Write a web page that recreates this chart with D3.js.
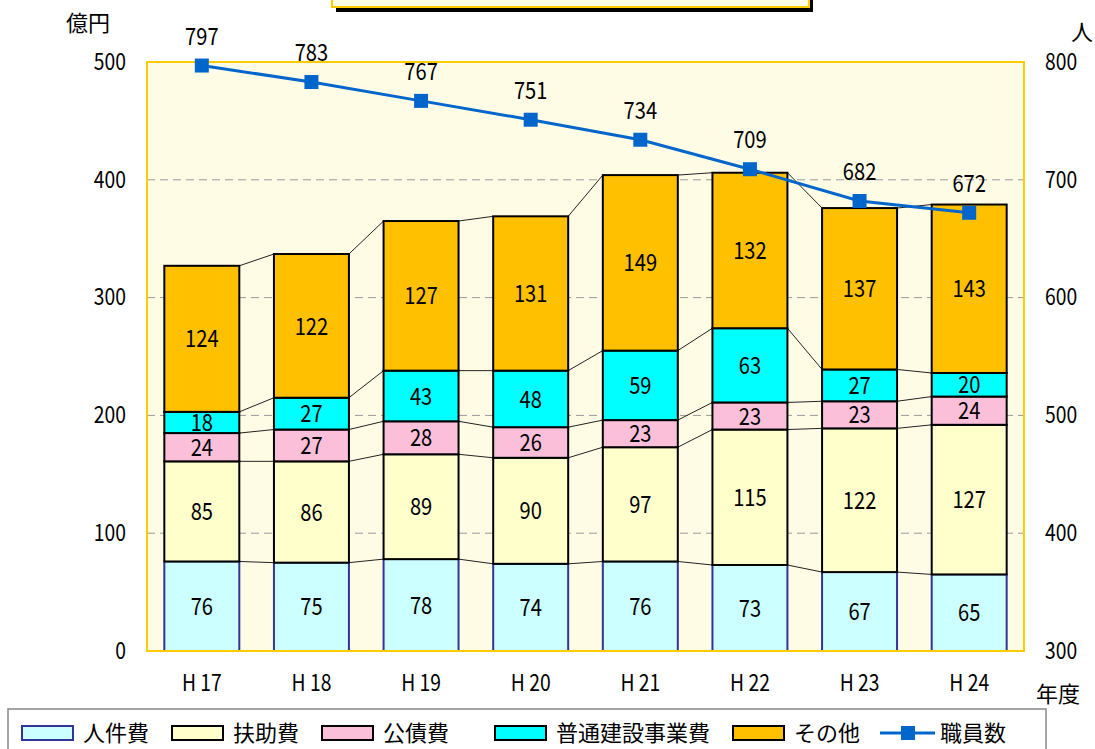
<!DOCTYPE html>
<html>
<head>
<meta charset="utf-8">
<script src="https://cdn.jsdelivr.net/npm/d3@7"></script>
<style>
  body { margin: 0; background: #fff; }
  svg text { font-family: "Noto Sans CJK JP", "DejaVu Sans", sans-serif; fill: #000; }
</style>
</head>
<body>
<div id="chart-area"></div>
<script>
// data
const years = ["H 17", "H 18", "H 19", "H 20", "H 21", "H 22", "H 23", "H 24"];
const personnel = [76, 75, 78, 74, 76, 73, 67, 65];
const assistance = [85, 86, 89, 90, 97, 115, 122, 127];
const debt = [24, 27, 28, 26, 23, 23, 23, 24];
const construction = [18, 27, 43, 48, 59, 63, 27, 20];
const other = [124, 122, 127, 131, 149, 132, 137, 143];
const staff = [797, 783, 767, 751, 734, 709, 682, 672];
const leftTicks = [0, 100, 200, 300, 400, 500];
const rightTicks = [300, 400, 500, 600, 700, 800];

const series = [
    { name: "人件費", values: personnel, fill: "#CCFFFF", stroke: "#333399" },
    { name: "扶助費", values: assistance, fill: "#FFFFCC", stroke: "#000" },
    { name: "公債費", values: debt, fill: "#FBBFDA", stroke: "#000" },
    { name: "普通建設事業費", values: construction, fill: "#00FFFF", stroke: "#000" },
    { name: "その他", values: other, fill: "#FFC000", stroke: "#000" }
];

const W = 1095, H = 749;
const margin = { top: 62, right: 71, bottom: 98, left: 147 };
const width = W - margin.left - margin.right;
const height = H - margin.top - margin.bottom;
const narrow = 0.84; // digits in the original are tall and narrow

const svg = d3.select('#chart-area').append('svg')
    .attr('width', W)
    .attr('height', H);

// title box cut off at the top
svg.append('rect').attr('x', 336).attr('y', -20).attr('width', 477).attr('height', 32).attr('fill', '#000');
svg.append('rect').attr('x', 332).attr('y', -20).attr('width', 477).attr('height', 27)
    .attr('fill', '#FFFCE6').attr('stroke', '#FFCC00').attr('stroke-width', 2);

const g = svg.append('g').attr('transform', `translate(${margin.left},${margin.top})`);

const x = d3.scaleBand().domain(years).range([0, width]).paddingInner(0.316).paddingOuter(0.158);
const y = d3.scaleLinear().domain([0, 500]).range([height, 0]);
const y2 = d3.scaleLinear().domain([300, 800]).range([height, 0]);

g.append('rect').attr('width', width).attr('height', height).attr('fill', '#FFFCE6');

// gridlines
g.selectAll('.grid').data([100, 200, 300, 400]).enter().append('line')
    .attr('x1', 0).attr('x2', width)
    .attr('y1', d => y(d)).attr('y2', d => y(d))
    .attr('stroke', '#999').attr('stroke-dasharray', '8,5').attr('stroke-width', 1);

// stacked data
const stackData = years.map((yr, i) => {
    const row = { year: yr };
    series.forEach(s => row[s.name] = s.values[i]);
    return row;
});
const stacked = d3.stack().keys(series.map(s => s.name))(stackData);

// connector lines between bars
stacked.forEach(layer => {
    for (let i = 0; i < years.length - 1; i++) {
        g.append('line')
            .attr('x1', x(years[i]) + x.bandwidth())
            .attr('x2', x(years[i + 1]))
            .attr('y1', y(layer[i][1]))
            .attr('y2', y(layer[i + 1][1]))
            .attr('stroke', '#222').attr('stroke-width', 1);
    }
});

stacked.forEach((layer, li) => {
    const s = series[li];
    g.selectAll(`.bar-${li}`).data(layer).enter().append('rect')
        .attr('x', (d, i) => x(years[i]))
        .attr('y', d => y(d[1]))
        .attr('width', x.bandwidth())
        .attr('height', d => y(d[0]) - y(d[1]))
        .attr('fill', s.fill)
        .attr('stroke', s.stroke)
        .attr('stroke-width', 2);

    g.selectAll(`.val-${li}`).data(layer).enter().append('text')
        .attr('transform', (d, i) => `translate(${x(years[i]) + x.bandwidth() / 2},${(y(d[0]) + y(d[1])) / 2}) scale(${narrow},1)`)
        .attr('dy', '.36em')
        .attr('text-anchor', 'middle')
        .style('font-size', '24px')
        .text((d, i) => s.values[i]);
});

// plot border
g.append('rect').attr('width', width).attr('height', height)
    .attr('fill', 'none').attr('stroke', '#FFCC00').attr('stroke-width', 2);

// staff line
const line = d3.line()
    .x((d, i) => x(years[i]) + x.bandwidth() / 2)
    .y(d => y2(d));
g.append('path').datum(staff).attr('d', line)
    .attr('fill', 'none').attr('stroke', '#0066CC').attr('stroke-width', 3);
g.selectAll('.marker').data(staff).enter().append('rect')
    .attr('x', (d, i) => x(years[i]) + x.bandwidth() / 2 - 7)
    .attr('y', d => y2(d) - 7)
    .attr('width', 14).attr('height', 14)
    .attr('fill', '#0066CC');
g.selectAll('.staff-label').data(staff).enter().append('text')
    .attr('transform', (d, i) => `translate(${x(years[i]) + x.bandwidth() / 2},${y2(d) - 21}) scale(${narrow},1)`)
    .attr('text-anchor', 'middle')
    .style('font-size', '24px')
    .text(d => d);

// axes
const leftAxis = g.append('g')
    .call(d3.axisLeft(y).tickValues(leftTicks).tickSize(0).tickPadding(0));
const rightAxis = g.append('g').attr('transform', `translate(${width},0)`)
    .call(d3.axisRight(y2).tickValues(rightTicks).tickSize(0).tickPadding(0));
const xAxis = g.append('g').attr('transform', `translate(0,${height})`)
    .call(d3.axisBottom(x).tickSize(0).tickPadding(24));
[leftAxis, rightAxis, xAxis].forEach(a => {
    a.select('.domain').remove();
    a.selectAll('text')
        .style('font-size', '23px')
        .attr('fill', '#000');
});
leftAxis.selectAll('text').attr('x', null).attr('transform', `translate(-21,0) scale(${narrow},1)`);
rightAxis.selectAll('text').attr('x', null).attr('transform', `translate(21,0) scale(${narrow},1)`);
xAxis.selectAll('text').attr('transform', `scale(${narrow},1)`);

// axis unit labels
svg.append('text').attr('x', 66).attr('y', 31).style('font-size', '22px').text('億円');
svg.append('text').attr('x', 1071).attr('y', 40).style('font-size', '22px').text('人');
svg.append('text').attr('x', 1036).attr('y', 702).style('font-size', '22px').text('年度');

// legend
svg.append('rect').attr('x', 8).attr('y', 709).attr('width', 1038).attr('height', 60)
    .attr('fill', '#fff').attr('stroke', '#888').attr('stroke-width', 1.5);
const legendX = [22, 172, 322, 495, 733];
series.forEach((s, i) => {
    svg.append('rect').attr('x', legendX[i]).attr('y', 726).attr('width', 51).attr('height', 14)
        .attr('fill', s.fill).attr('stroke', s.stroke).attr('stroke-width', 2);
    svg.append('text').attr('x', legendX[i] + 61).attr('y', 741).style('font-size', '22px').text(s.name);
});
svg.append('line').attr('x1', 880).attr('x2', 935).attr('y1', 733).attr('y2', 733)
    .attr('stroke', '#0066CC').attr('stroke-width', 3);
svg.append('rect').attr('x', 901).attr('y', 726).attr('width', 14).attr('height', 14).attr('fill', '#0066CC');
svg.append('text').attr('x', 940).attr('y', 741).style('font-size', '22px').text('職員数');
</script>
</body>
</html>
